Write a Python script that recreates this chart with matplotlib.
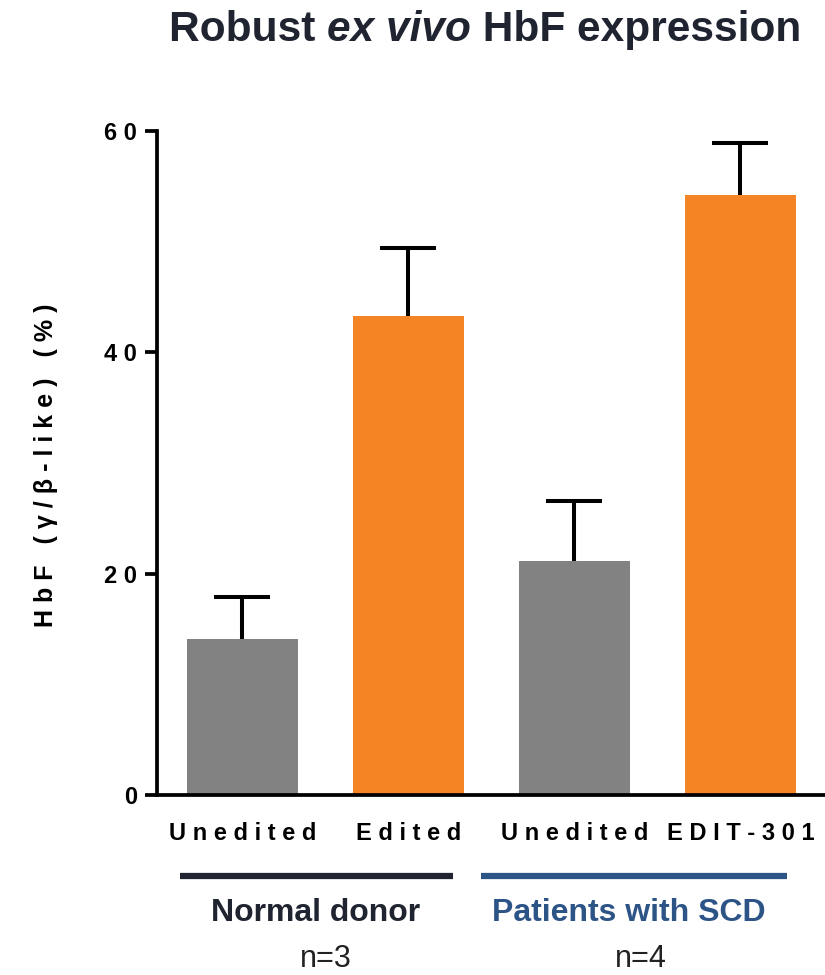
import matplotlib
matplotlib.use("Agg")
import matplotlib.pyplot as plt
import matplotlib.transforms as mtransforms
import numpy as np

# data
labels = ["Unedited", "Edited", "Unedited", "EDIT-301"]
hbf = [14.1, 43.3, 21.1, 54.2]
hbf_err = [3.8, 6.1, 5.5, 4.7]
bar_colors = ["#828282", "#f48424", "#828282", "#f48424"]
groups = ["Normal donor", "Patients with SCD"]
group_n = ["n=3", "n=4"]
group_colors = ["#1f2430", "#2d5486"]
yticks = [0, 20, 40, 60]

plt.rcParams["font.family"] = ["Liberation Sans", "DejaVu Sans"]


def spaced(s, gap=" "):
    return gap.join(s)


fig = plt.figure(figsize=(8.25, 9.75), dpi=100)
ax = fig.add_axes([157 / 825, 1 - 795 / 975, 1 - 157 / 825, (795 - 131) / 975])

x = np.arange(len(labels))
ax.bar(x, hbf, width=0.67, color=bar_colors, zorder=2)
eb = ax.errorbar(x, hbf, yerr=[[0] * len(hbf), hbf_err], fmt="none", ecolor="black",
                 elinewidth=2.9, capsize=20, capthick=2.9, zorder=3)
# only the upper cap
eb[1][0].set_visible(False)

ax.set_xlim(-0.515, 3.51)
ax.set_ylim(0, 60)
for side in ["top", "right"]:
    ax.spines[side].set_visible(False)
for side in ["left", "bottom"]:
    ax.spines[side].set_linewidth(2.7)
    ax.spines[side].set_capstyle("projecting")

ax.set_xticks([])
ax.set_yticks(yticks)
ax.set_yticklabels([spaced(str(v)) for v in yticks], fontweight="bold", fontsize=17)
ax.tick_params(axis="y", length=8.5, width=2.7, pad=6)

# category labels under bars
trans = mtransforms.blended_transform_factory(ax.transData, fig.transFigure)
for xi, lab in zip(x, labels):
    ax.text(xi, 1 - 834 / 975, spaced(lab), transform=trans, ha="center",
            va="center", fontweight="bold", fontsize=17)

# group bars and names
spans = [(-0.376, 1.268), (1.437, 3.28)]
name_x = [0.44, 2.33]
n_x = [0.505, 2.40]
for (x0, x1), name, nx, ntxt, col, n in zip(spans, groups, name_x, n_x,
                                           group_colors, group_n):
    ax.plot([x0, x1], [1 - 876 / 975] * 2, transform=trans, color=col,
            linewidth=4.5, clip_on=False, solid_capstyle="butt")
    ax.text(nx, 1 - 921 / 975, name, transform=trans, ha="center",
            va="baseline", color=col, fontweight="bold", fontsize=23)
    ax.text(ntxt, 1 - 967 / 975, n, transform=trans, ha="center",
            va="baseline", color="#222222", fontsize=22)

# y label
ylab = "   ".join(spaced(w) for w in ["HbF", "(γ/β-like)", "(%)"])
fig.text(46 / 825, 1 - 465 / 975, ylab, rotation=90, ha="center", va="center",
         fontweight="bold", fontsize=18)

# title, with italic middle part
parts = [("Robust ", "normal"), ("ex vivo", "italic"), (" HbF expression", "normal")]
renderer = fig.canvas.get_renderer()
texts = []
for s, style in parts:
    t = fig.text(0, 1 - 41 / 975, s, fontsize=30.5, fontweight="bold",
                 style=style, color="#1f2430", va="baseline", ha="left")
    texts.append(t)
widths = [t.get_window_extent(renderer).width for t in texts]
xpos = 485 - sum(widths) / 2
for t, w in zip(texts, widths):
    t.set_x(xpos / 825)
    xpos += w

fig.savefig("out.png", dpi=100)
